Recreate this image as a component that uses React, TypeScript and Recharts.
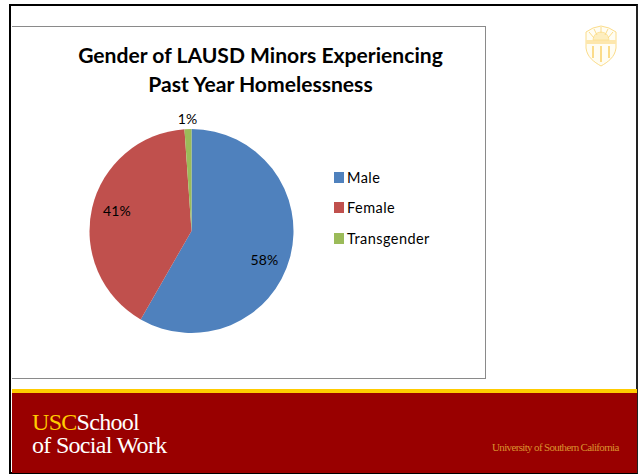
import React from 'react';
import { PieChart, Pie, Cell, Legend } from 'recharts';

const categories = ['Male', 'Female', 'Transgender'];
const shares = [58.3, 40.6, 1.1];
const sliceColors = ['#4f81bd', '#c0504d', '#9bbb59'];
const titleLines = ['Gender of LAUSD Minors Experiencing', 'Past Year Homelessness'];
const data = categories.map((name, i) => ({ name, value: shares[i] }));

const RAD = Math.PI / 180;
const FONT = 'Lato, "Open Sans", sans-serif';

const renderLabel = (p: any) => {
  const outside = p.percent < 0.05;
  const r = outside ? p.outerRadius + 11 : p.outerRadius * 0.75;
  const x = p.cx + r * Math.cos(-p.midAngle * RAD);
  const y = p.cy + r * Math.sin(-p.midAngle * RAD);
  const dx = p.index === 2 ? 0 : p.index === 0 ? -1 : 0;
  const dy = p.index === 0 ? 9 : p.index === 1 ? -3 : 0;
  return (
    <text x={x + dx} y={y + dy} textAnchor="middle" dominantBaseline="central" fill="#000" fontFamily={FONT} fontSize={14} letterSpacing={0.2}>
      {`${Math.round(p.value)}%`}
    </text>
  );
};

const renderLegend = () => (
  <div style={{ fontFamily: FONT, fontSize: 14.5, letterSpacing: 0.45, color: '#000' }}>
    {categories.map((c, i) => (
      <div key={c} style={{ display: 'flex', alignItems: 'center', height: 30.5 }}>
        <span style={{ width: 10, height: 11, background: sliceColors[i], marginRight: 3, display: 'inline-block' }} />
        <span>{c}</span>
      </div>
    ))}
  </div>
);

const Crest = () => (
  <svg style={{ position: 'absolute', left: 584, top: 24 }} width="34" height="44" viewBox="0 0 34 44">
    <path d="M2 8 L9 4 L17 2 L25 4 L32 8 L32 24 C31 33 24 38 17 42 C10 38 3 33 2 24 Z" fill="#fffdf3" stroke="#fbdc8a" strokeWidth="1" />
    <path d="M2 16 H32 V20 H2 Z" fill="#fde7ad" />
    <path d="M9 16 A8 8 0 0 1 25 16 Z" fill="#fdeebf" stroke="#fbdc8a" strokeWidth="0.7" />
    <path d="M5 8 L10 14 M10 5 L13 11 M17 3 V9 M24 5 L21 11 M29 8 L24 14" stroke="#fbdc8a" strokeWidth="1" />
    <path d="M9 22 V34 M17 22 V38 M25 22 V34" stroke="#fbdc8a" strokeWidth="2" />
  </svg>
);

export default function App() {
  return (
    <div style={{ position: 'absolute', left: 0, top: 0, width: 640, height: 474, background: '#fff', overflow: 'hidden' }}>
      <div style={{ position: 'absolute', left: 9, top: 4, width: 629, height: 470, boxSizing: 'border-box', border: '2.5px solid #000', borderRight: '2.5px solid #222' }} />
      <div style={{ position: 'absolute', left: 12, top: 26, width: 474, height: 353, boxSizing: 'border-box', borderTop: '1px solid #8a8a8a', borderRight: '1px solid #8a8a8a', borderBottom: '1px solid #8a8a8a' }} />
      <div style={{ position: 'absolute', left: 12, top: 27, width: 474, height: 352 }}>
        <PieChart width={474} height={352} margin={{ top: 0, right: 0, bottom: 0, left: 0 }}>
          <text textAnchor="middle" fontFamily={FONT} fontWeight={700} fontSize={21.1} fill="#000">
            <tspan x={248.5} y={36}>{titleLines[0]}</tspan>
            <tspan x={248.5} y={65}>{titleLines[1]}</tspan>
          </text>
          <Pie
            data={data}
            dataKey="value"
            nameKey="name"
            cx={179.5}
            cy={204}
            outerRadius={102}
            startAngle={90}
            endAngle={-270}
            stroke="none"
            label={renderLabel}
            labelLine={false}
            isAnimationActive={false}
          >
            {categories.map((c, i) => (
              <Cell key={c} fill={sliceColors[i]} />
            ))}
          </Pie>
          <Legend content={renderLegend} wrapperStyle={{ position: 'absolute', left: 322, top: 135, width: 130 }} />
        </PieChart>
      </div>
      <Crest />
      <div style={{ position: 'absolute', left: 12, top: 389, width: 625, height: 4, background: '#ffcc00' }} />
      <div style={{ position: 'absolute', left: 12, top: 393, width: 625, height: 80, background: '#990000' }} />
      <div style={{ position: 'absolute', left: 32, top: 411, fontFamily: '"Liberation Serif", serif', fontSize: 24, lineHeight: '23px', color: '#fff', letterSpacing: -0.7 }}>
        <div><span style={{ color: '#ffcc00' }}>USC</span>School</div>
        <div>of Social Work</div>
      </div>
      <div style={{ position: 'absolute', left: 492, top: 441, fontFamily: '"Liberation Serif", serif', fontSize: 11, color: '#d9922e', letterSpacing: -0.65, whiteSpace: 'nowrap' }}>
        University of Southern California
      </div>
    </div>
  );
}
